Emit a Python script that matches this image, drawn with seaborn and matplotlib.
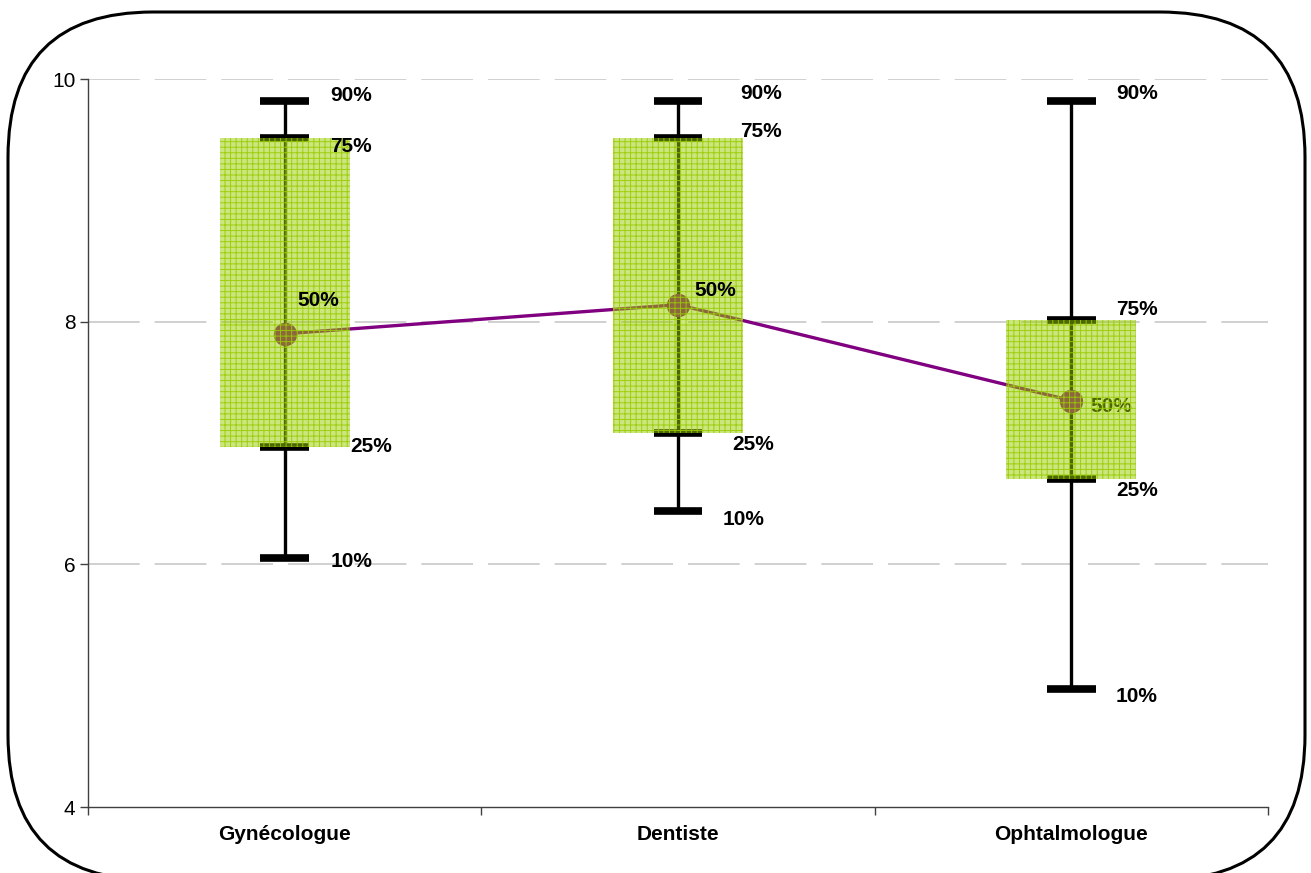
import matplotlib
matplotlib.use('Agg')
import matplotlib.pyplot as plt
import seaborn as sns
from matplotlib.patches import FancyBboxPatch

# Data
categories = ['Gynécologue', 'Dentiste', 'Ophtalmologue']
p10 = [6.05, 6.44, 4.97]
p25 = [6.97, 7.08, 6.70]
p50 = [7.90, 8.14, 7.35]
p75 = [9.51, 9.51, 8.01]
p90 = [9.82, 9.82, 9.82]
pct_labels = ['10%', '25%', '50%', '75%', '90%']

# label offsets in points (dx, dy) per category for 10,25,50,75,90
label_offsets = [
    [(33, -2), (47, 0), (9, 24), (33, -6), (33, 4)],
    [(32, -6), (39, -8), (12, 10), (45, 5), (45, 5)],
    [(32, -5), (32, -8), (14, -4), (32, 8), (32, 5)],
]

sns.set_theme(style='white')
plt.rcParams['font.family'] = ['Liberation Sans', 'DejaVu Sans']
plt.rcParams['text.color'] = 'black'
plt.rcParams['xtick.color'] = 'black'
plt.rcParams['ytick.color'] = 'black'
plt.rcParams['hatch.linewidth'] = 0.7

fig = plt.figure(figsize=(13.11, 8.73), dpi=100)
ax = fig.add_axes([0.0671, 0.0756, 0.9001, 0.8339])

x = list(range(len(categories)))

# grid lines
for yv in [6, 8, 10]:
    ax.axhline(yv, color='#c8c8c8', lw=1.2, dashes=(31, 9), zorder=0)

# whiskers and caps
ax.vlines(x, p10, p90, color='black', lw=2.4, zorder=2)
for vals in [p10, p25, p75, p90]:
    ax.hlines(vals, [i - 0.062 for i in x], [i + 0.062 for i in x],
              color='black', lw=5.5, zorder=2)

# median line
sns.pointplot(x=categories, y=p50, color='#800080', markers='o',
              markersize=15, linewidth=2.4, ax=ax, zorder=3)

# percentile labels (only the Ophtalmologue 50% one sits under its box)
all_vals = [p10, p25, p50, p75, p90]
for i in x:
    for j, vals in enumerate(all_vals):
        dx, dy = label_offsets[i][j]
        z = 4 if (i == 2 and j == 2) else 7
        ax.annotate(pct_labels[j], (i, vals[i]), xytext=(dx, dy),
                    textcoords='offset points', ha='left', va='center',
                    fontsize=15, fontweight='bold', color='black', zorder=z)

# boxes (semi-transparent with grid hatch)
ax.bar(x, [p75[i] - p25[i] for i in x], bottom=p25, width=0.33,
       facecolor=(0.6, 0.8, 0.0, 0.5), edgecolor=(0.6, 0.8, 0.0, 0.9),
       linewidth=0, hatch='+++', zorder=5)

ax.set_xlim(-0.5, 2.5)
ax.set_ylim(4, 10)
ax.set_yticks([4, 6, 8, 10])
ax.set_xticks([-0.5, 0.5, 1.5, 2.5], minor=False)
ax.set_xticklabels([])
ax.set_xticks(x, minor=True)
ax.set_xticklabels(categories, minor=True, fontsize=15, fontweight='bold')
ax.tick_params(axis='x', which='minor', length=0, pad=13)
ax.tick_params(axis='x', which='major', length=6, width=1, color='#404040',
               direction='out', bottom=True)
ax.tick_params(axis='y', length=6, width=1, color='#404040', direction='out',
               left=True, labelsize=15, pad=3)
ax.set_xlabel('')
ax.set_ylabel('')
for s in ['top', 'right']:
    ax.spines[s].set_visible(False)
for s in ['left', 'bottom']:
    ax.spines[s].set_color('#404040')
    ax.spines[s].set_linewidth(1)
ax.set_facecolor('none')

# rounded frame around the chart
frame = FancyBboxPatch((0.08, -0.07), 12.97, 8.68,
                       boxstyle='round,pad=0,rounding_size=1.45',
                       transform=fig.dpi_scale_trans, fill=False,
                       edgecolor='black', lw=2.2, clip_on=False)
fig.patches.append(frame)

fig.savefig('out.png', dpi=100)
